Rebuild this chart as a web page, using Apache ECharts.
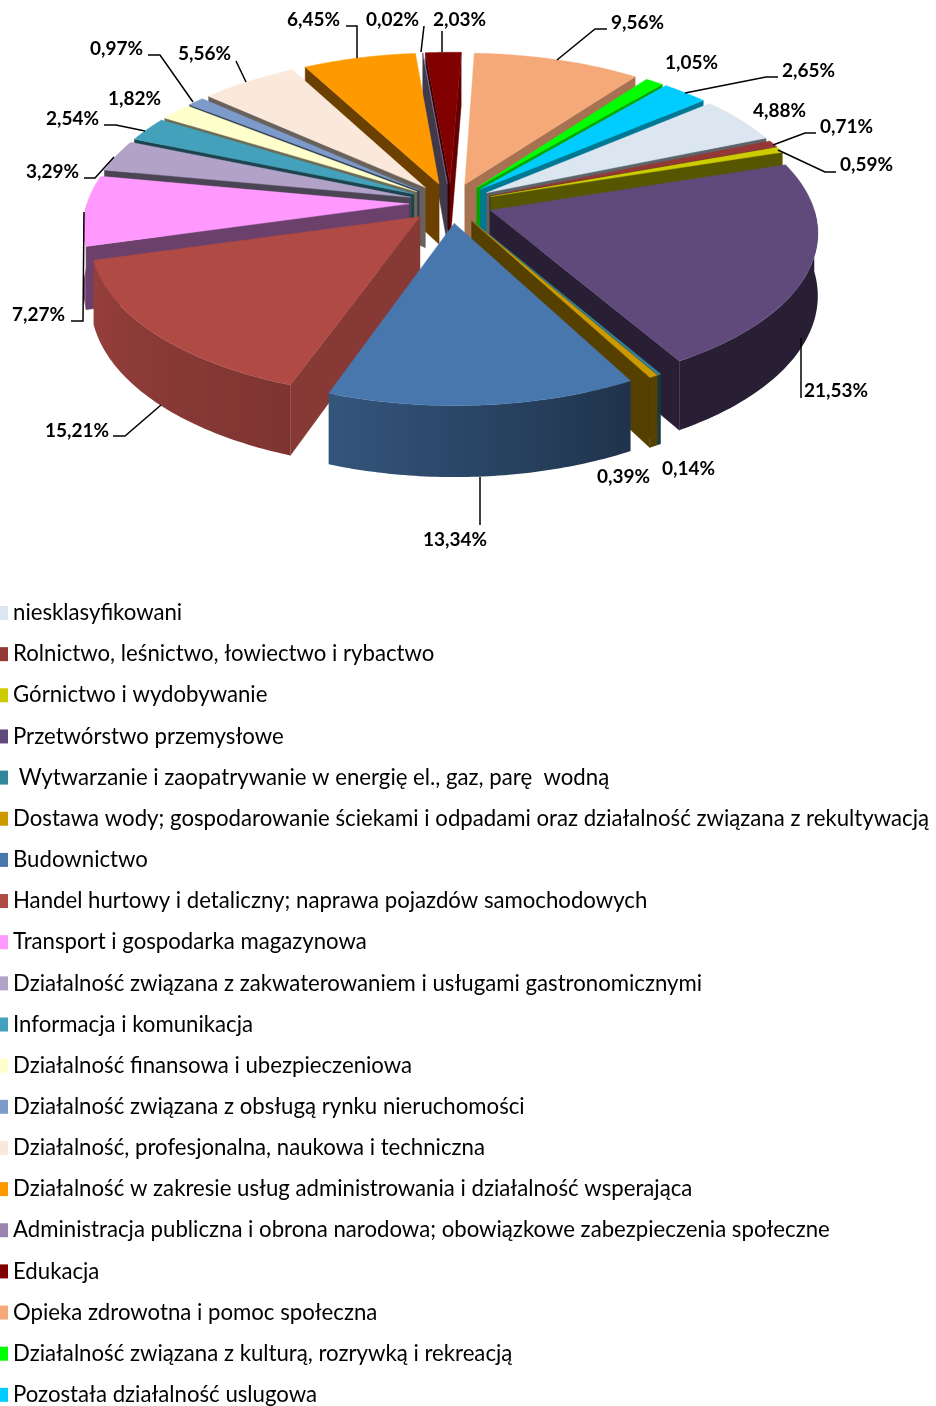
<!DOCTYPE html>
<html><head><meta charset="utf-8">
<style>html,body{margin:0;padding:0;background:#fff;overflow:hidden}#c{width:936px;height:1406px}</style>
<script src="https://cdn.jsdelivr.net/npm/echarts@6/dist/echarts.min.js"></script>
</head><body><div id="c"></div>
<script>
const categories = ["niesklasyfikowani","Rolnictwo, leśnictwo, łowiectwo i rybactwo","Górnictwo i wydobywanie","Przetwórstwo przemysłowe"," Wytwarzanie i zaopatrywanie w energię el., gaz, parę  wodną","Dostawa wody; gospodarowanie ściekami i odpadami oraz działalność związana z rekultywacją","Budownictwo","Handel hurtowy i detaliczny; naprawa pojazdów samochodowych","Transport i gospodarka magazynowa","Działalność związana z zakwaterowaniem i usługami gastronomicznymi","Informacja i komunikacja","Działalność finansowa i ubezpieczeniowa","Działalność związana z obsługą rynku nieruchomości","Działalność, profesjonalna, naukowa i techniczna","Działalność w zakresie usług administrowania i działalność wsperająca","Administracja publiczna i obrona narodowa; obowiązkowe zabezpieczenia społeczne","Edukacja","Opieka zdrowotna i pomoc społeczna","Działalność związana z kulturą, rozrywką i rekreacją","Pozostała działalność uslugowa"];
const values = [4.88,0.71,0.59,21.53,0.14,0.39,13.34,15.21,7.27,3.29,2.54,1.82,0.97,5.56,6.45,0.02,2.03,9.56,1.05,2.65];
const colors = ["#dce6f1","#953735","#cccc00","#604a7b","#31859c","#cc9900","#4877ae","#b04a45","#ff99ff","#b3a2c7","#43a1bb","#ffffcc","#7c9bca","#fae8da","#ff9900","#9a85b0","#800000","#f5a878","#00ff00","#00ccff"];
// label text: [left x, centre y]
const labelPos = [[753,111],[820,127],[840,165],[804,391],[662,469],[597,477],[423,540],[45,431],[12,315],[26,172],[46,119],[108,99],[90,49],[178,54],[287,20],[366,20],[433,20],[611,23],[665,63],[782,71]];
// leader polylines for labels
const leaders = [[],[[773,145],[805,133],[816,133]],[[778,150],[825,172],[836,172]],[[801,338],[801,398]],[],[],[[480,477],[480,525]],[[161,405],[125,436],[113,436]],[[84,212],[83,321],[71,321]],[[114,157],[95,178],[84,178]],[[145,131],[116,125],[104,125]],[],[[193,102],[160,55],[148,55]],[[246,82],[236,61]],[[357,58],[357,26],[346,26]],[[421,52],[424,26]],[[442,52],[442,31]],[[557,60],[595,29],[607,29]],[],[[685,93],[766,77],[778,77]]];

const CX=451, CY=203, R=322, RY=153, H=61, K=0.13, EXPL=0.13, START=50;
const total = values.reduce((a,b)=>a+b,0);
const rad = d=>d*Math.PI/180;
function proj(u,v,z){const s=1/(1-K*v);return [CX+u*R*s, CY+v*RY*s+z*H*s];}
function shade(hex,f){const n=parseInt(hex.slice(1),16);const c=[n>>16&255,n>>8&255,n&255].map(x=>Math.round(x*f));return `rgb(${c[0]},${c[1]},${c[2]})`;}
function wallF(t){ // brightness of the rim wall by angle
  if(t<=150) return 0.42;
  if(t<=198) return 0.42+(t-150)/48*0.29;
  if(t>=255) return 0.45;
  return Math.min(0.71+(t-198)/55*0.14,0.85);
}
function faceF(nx){return Math.max(0.42,0.2+0.6*nx);}
function poly(points,fill){return {type:'polygon',silent:true,shape:{points},style:{fill,stroke:fill,lineWidth:0.4}};}

function sliceItem(idx){
  return function(params,api){
    const val=api.value(0), cum=api.value(1), color=colors[idx];
    const a=START+cum/total*360, b=a+val/total*360, m=(a+b)/2;
    const ox=Math.sin(rad(m))*EXPL, oy=-Math.cos(rad(m))*EXPL;
    const rim=(t,z)=>proj(ox+Math.sin(rad(t)),oy-Math.cos(rad(t)),z);
    const apex=z=>proj(ox,oy,z);
    const kids=[];
    const step=Math.max((b-a)/60,0.05);
    const arc=(p,q)=>{const r=[];for(let t=p;t<q;t+=step)r.push(t);r.push(q);return r;};
    // radial cut faces that look towards the viewer
    if(-Math.sin(rad(a))>0){const nx=-Math.cos(rad(a));kids.push(poly([apex(0),rim(a,0),rim(a,1),apex(1)],shade(color,faceF(nx))));}
    if(Math.sin(rad(b))>0){const nx=Math.cos(rad(b));kids.push(poly([apex(0),rim(b,0),rim(b,1),apex(1)],shade(color,faceF(nx))));}
    // rim wall, front half only
    const w0=Math.max(a,90), w1=Math.min(b,270);
    if(w1>w0){
      const ts=arc(w0,w1), top=ts.map(t=>rim(t,0)), bot=ts.map(t=>rim(t,1)).reverse();
      const xs=ts.map(t=>rim(t,0)[0]);
      const x0=Math.min(...xs), x1=Math.max(...xs), span=Math.max(x1-x0,1);
      const stops=ts.map((t,i)=>({offset:(xs[i]-x0)/span,color:shade(color,wallF(t))})).sort((p,q)=>p.offset-q.offset);
      const fill={type:'linear',global:true,x:x0,y:0,x2:x1,y2:0,colorStops:stops};
      kids.push({type:'polygon',silent:true,shape:{points:top.concat(bot)},style:{fill}});
    }
    // top face
    kids.push(poly([apex(0)].concat(arc(a,b).map(t=>rim(t,0))),color));
    return {type:'group',children:kids};
  };
}
function labelItem(params,api){
  const i=params.dataIndex;
  const txt=api.value(0).toFixed(2).replace('.',',')+'%';
  const kids=[{type:'text',silent:true,style:{x:labelPos[i][0],y:labelPos[i][1],text:txt,fill:'#000',font:'bold 19px Lato',textAlign:'left',textVerticalAlign:'middle'}}];
  if(leaders[i].length)kids.push({type:'polyline',silent:true,shape:{points:leaders[i]},style:{stroke:'#000',lineWidth:1.5,fill:null}});
  return {type:'group',children:kids};
}
let cum=0;
const series=values.map((v,i)=>{
  const start=cum; cum+=v;
  const mid=START+(start+v/2)/total*360;
  return {type:'custom',name:categories[i],coordinateSystem:'none',silent:true,
    z:10+(-Math.cos(rad(mid))+1)*20,animation:false,
    itemStyle:{color:colors[i]},data:[[v,start]],renderItem:sliceItem(i)};
});
series.push({type:'custom',name:'etykiety',coordinateSystem:'none',silent:true,z:60,animation:false,data:values.map(v=>[v]),renderItem:labelItem});
const chart=echarts.init(document.getElementById('c'),null,{renderer:'canvas'});
chart.setOption({
  backgroundColor:'#fff',animation:false,
  legend:{data:categories,orient:'vertical',left:0,top:602,padding:0,icon:'rect',itemWidth:8,itemHeight:14,itemGap:19.15,selectedMode:false,
    textStyle:{fontFamily:'Lato',fontSize:22.2,lineHeight:22,color:'#000'}},
  series
});
</script></body></html>
